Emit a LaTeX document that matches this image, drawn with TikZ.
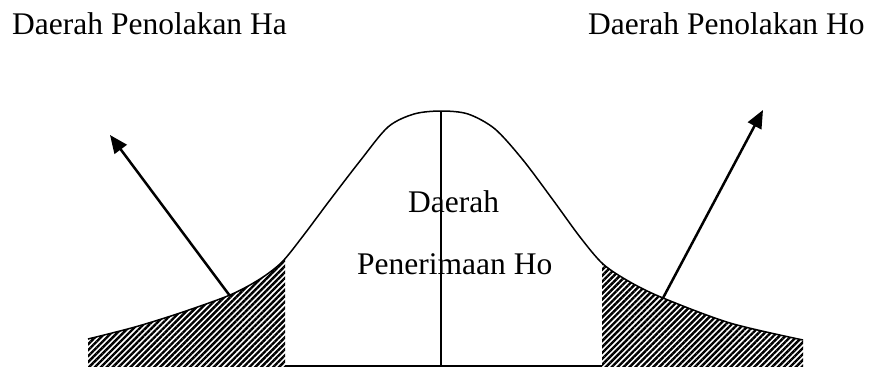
\documentclass[tikz,border=0pt]{standalone}
\usepackage{fontspec}
\setmainfont{Liberation Serif}
\usetikzlibrary{patterns.meta,arrows.meta}
\begin{document}
\begin{tikzpicture}[x=1pt,y=-1pt,
  lbl/.style={inner sep=0pt,anchor=base west,font=\fontsize{31.5}{38}\selectfont},
  curve/.style={line width=1.5pt},
  arr/.style={line width=2.5pt,-{Triangle[length=18pt,width=15pt]}},
  hatch/.style={pattern={Lines[angle=45,distance=4.2pt,line width=2.4pt]},pattern color=black}]
\useasboundingbox (0,0) rectangle (871,367);
\def\curvepts{(88,339) (135,327) (180,313) (230,295) (260,279) (282,262) (303,236) (330,200) (360,161) (388,127) (414,114) (441,111) (468,114) (495,129) (523,160) (553,200) (580,237) (603,264) (630,282) (663,298) (730,323) (803,340)}
% hatched tails
\begin{scope}
  \clip (88,367) -- plot[smooth] coordinates {\curvepts} -- (803,367) -- cycle;
  \fill[hatch] (88,100) rectangle (285,368);
  \fill[hatch] (602,100) rectangle (803,368);
\end{scope}
% curve
\draw[curve] plot[smooth] coordinates {\curvepts};
% base and centre line
\coordinate (bl) at (285,366);
\coordinate (br) at (602,366);
\coordinate (top) at (441,111);
\coordinate (bot) at (441,366);
\draw[curve] (bl) -- (br);
\draw[curve] (top) -- (bot);
% labels
\node[lbl] (ha) at (12,34) {Daerah Penolakan Ha};
\node[lbl] (ho) at (588,34) {Daerah Penolakan Ho};
\node[lbl] (d1) at (408,212) {Daerah};
\node[lbl] (d2) at (357,274) {Penerimaan Ho};
% arrows
\coordinate (la) at (230,296);
\coordinate (lt) at (110,135);
\coordinate (ra) at (663,298);
\coordinate (rt) at (763,110);
\draw[arr] (la) -- (lt);
\draw[arr] (ra) -- (rt);
\end{tikzpicture}
\end{document}
